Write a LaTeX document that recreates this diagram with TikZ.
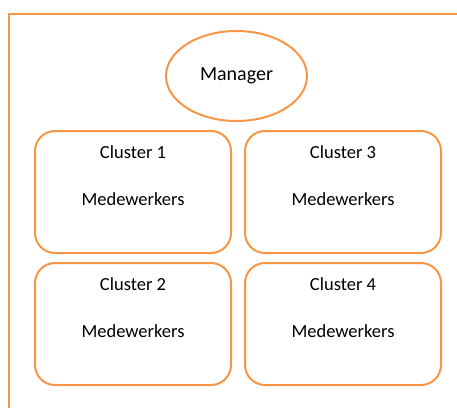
\documentclass[tikz,border=0pt]{standalone}
\usepackage{fontspec}
\setmainfont{Carlito}
\usetikzlibrary{shapes.geometric}
\definecolor{accent}{HTML}{F79646}
\begin{document}
\begin{tikzpicture}[x=1pt,y=-1pt,
  cluster/.style={draw=accent,line width=2pt,rounded corners=20pt,fill=white,
    minimum width=196pt,minimum height=122pt,anchor=north west},
  lbl/.style={font=\fontsize{18.5}{22}\selectfont,anchor=center}]
\useasboundingbox (0,0) rectangle (457,408);
% outer frame: left and top edges
\coordinate (ftop) at (457,14);
\coordinate (fcorner) at (9,14);
\coordinate (fbot) at (9,408);
\draw[accent,line width=2.2pt] (ftop) -- (fcorner) -- (fbot);
% manager
\node[ellipse,draw=accent,line width=2pt,minimum width=141pt,minimum height=90pt,
  inner sep=0pt,font=\fontsize{20}{24}\selectfont] (mgr) at (236.5,76) {Manager};
% clusters
\node[cluster] (c1) at (34,130) {};
\node[cluster] (c3) at (244,130) {};
\node[cluster] (c2) at (34,262) {};
\node[cluster] (c4) at (244,262) {};
\foreach \b/\n in {c1/1,c3/3,c2/2,c4/4}{
  \node[lbl] (\b t) at ([shift={(0,22)}]\b.north) {Cluster \n};
  \node[lbl] (\b m) at ([shift={(0,69)}]\b.north) {Medewerkers};
}
\end{tikzpicture}
\end{document}
